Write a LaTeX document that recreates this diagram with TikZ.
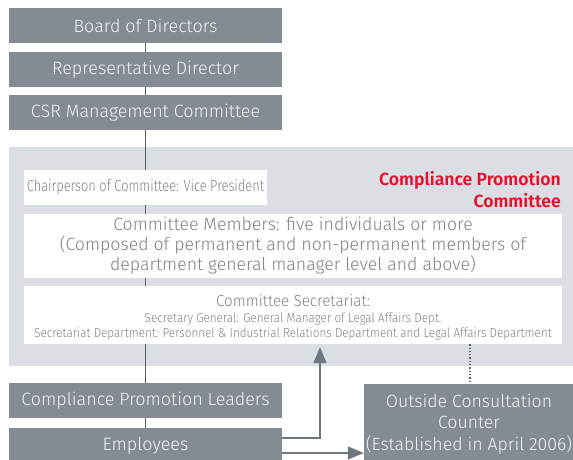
\documentclass[tikz,border=0pt]{standalone}
\usepackage{fontspec}
\usetikzlibrary{arrows.meta}
\IfFontExistsTF{Fira Sans Light}
  {\newfontfamily\lightf{Fira Sans Light}
   \newfontfamily\condf{Fira Sans Light}[FakeStretch=0.8]
   \newfontfamily\semif{Fira Sans Light}[FakeStretch=0.95]
   \newfontfamily\smallf{Fira Sans Light}[FakeStretch=0.9]}
  {\newfontfamily\lightf{Fira Sans}
   \newfontfamily\condf{Fira Sans}[FakeStretch=0.8]
   \newfontfamily\semif{Fira Sans}[FakeStretch=0.95]
   \newfontfamily\smallf{Fira Sans}[FakeStretch=0.9]}
\IfFontExistsTF{Fira Sans SemiBold}
  {\newfontfamily\boldf{Fira Sans SemiBold}}
  {\newfontfamily\boldf{Fira Sans}[UprightFont=*-Bold]}
\setmainfont{Fira Sans}
\definecolor{boxgray}{HTML}{858B92}
\definecolor{regiongray}{HTML}{DBDEE2}
\definecolor{boxtext}{HTML}{F4F4F4}
\definecolor{wtext}{HTML}{7E8389}
\definecolor{redtxt}{HTML}{E8112D}
\definecolor{linecol}{HTML}{5A5F66}
\definecolor{arrcol}{HTML}{6F7780}
\pgfdeclarelayer{back}
\pgfdeclarelayer{mid}
\pgfsetlayers{back,mid,main}
\tikzset{
  darkbox/.style={fill=boxgray, text=boxtext, inner sep=0pt, minimum width=273pt,
    minimum height=35pt, font=\lightf\fontsize{17.9}{21}\selectfont},
  whitebox/.style={fill=white, text=wtext, inner sep=0pt},
  wtextnode/.style={text=wtext, inner sep=0pt, anchor=base},
  conn/.style={draw=linecol, line width=0.9pt},
  arr/.style={draw=arrcol, line width=1.4pt, -{Triangle[length=16pt,width=13pt]}},
}
\begin{document}
\begin{tikzpicture}[x=1pt,y=-1pt]
\useasboundingbox (0,0) rectangle (573,459);
% top chain
\node[darkbox] (board) at (145.5,25.5) {Board of Directors};
\node[darkbox] (rep) at (145.5,69.5) {Representative Director};
\node[darkbox] (csr) at (145.5,112.5) {CSR Management Committee};
% committee region
\begin{pgfonlayer}{back}
\node[fill=regiongray, minimum width=564pt, minimum height=219pt, inner sep=0pt] (region) at (291,256.5) {};
\end{pgfonlayer}
\node[whitebox, minimum width=243pt, minimum height=35pt,
  font=\condf\fontsize{16}{19}\selectfont] (chair) at (145.5,187.5)
  {Chairperson of Committee: Vice President};
\node[anchor=north east, align=right, text=redtxt, inner sep=0pt,
  font=\boldf\fontsize{17.6}{22}\selectfont] (title) at (561,171)
  {Compliance Promotion\\Committee};
\node[whitebox, minimum width=538pt, minimum height=64pt, align=center,
  font=\lightf\fontsize{17.7}{20}\selectfont] (members) at (293,246)
  {Committee Members: five individuals or more\\
   (Composed of permanent and non-permanent members of\\
   department general manager level and above)};
\node[whitebox, minimum width=538pt, minimum height=58pt] (secr) at (293,315) {};
\node[wtextnode, font=\semif\fontsize{16}{18}\selectfont] (secr1) at (293,306)
  {Committee Secretariat:};
\node[wtextnode, font=\smallf\fontsize{13}{15}\selectfont] (secr2) at (293,322)
  {Secretary General: General Manager of Legal Affairs Dept.};
\node[wtextnode, font=\smallf\fontsize{13}{15}\selectfont] (secr3) at (293,337.5)
  {Secretariat Department: Personnel \& Industrial Relations Department and Legal Affairs Department};
% bottom
\node[darkbox] (leaders) at (145.5,400.5) {Compliance Promotion Leaders};
\node[darkbox] (emp) at (145.5,445.5) {Employees};
\node[darkbox, minimum width=210pt, minimum height=80pt, align=center,
  font=\lightf\fontsize{17.7}{21.5}\selectfont] (outside) at (469,424)
  {Outside Consultation\\Counter\\(Established in April 2006)};
% connectors
\begin{pgfonlayer}{mid}
\draw[conn] (board.south) -- (rep.north);
\draw[conn] (rep.south) -- (csr.north);
\draw[conn] (csr.south) -- (chair.north);
\draw[conn] (chair.south) -- (members.north -| chair.south);
\draw[conn] (members.south -| chair.south) -- (secr.north -| chair.south);
\draw[conn] (secr.south -| chair.south) -- (leaders.north);
\draw[conn] (leaders.south) -- (emp.north);
\end{pgfonlayer}
\coordinate (upx) at (320,0);
\coordinate (e1) at ([yshift=7.5pt]emp.east);
\coordinate (e2) at ([yshift=-7.5pt]emp.east);
\coordinate (tipup) at ([yshift=-3pt]secr.south -| upx);
\coordinate (dotx) at (470,0);
\draw[arr] (e1) -| (tipup);
\draw[arr] (e2) -- (outside.west |- e2);
\draw[draw=linecol, line width=1.3pt, dotted] (secr.south -| dotx) -- (outside.north -| dotx);
\end{tikzpicture}
\end{document}
